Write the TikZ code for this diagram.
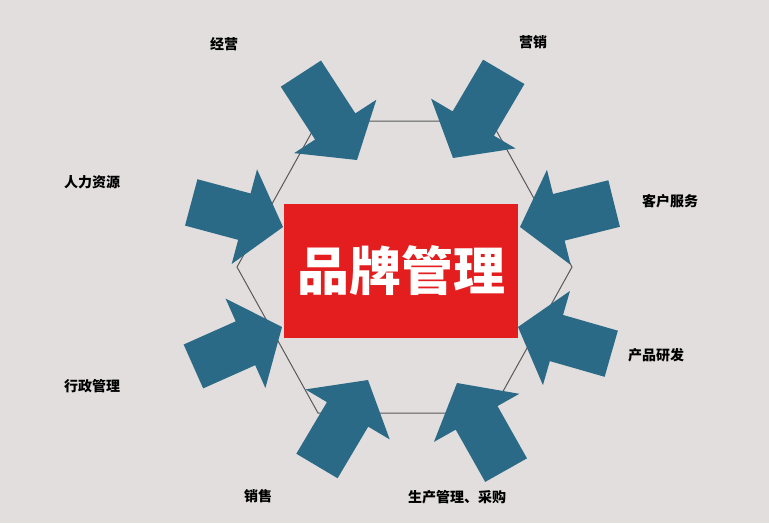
\documentclass[tikz,border=0pt]{standalone}
\usepackage{fontspec}
\newfontfamily\cjk{Noto Sans CJK SC}
\definecolor{bg}{HTML}{E2DEDE}
\definecolor{arrc}{HTML}{2B6A87}
\definecolor{redbox}{HTML}{E41E1E}
\newcommand\blockarrow[4]{%
  \fill[arrc,shift={(#1,#2)},rotate=-#3] (0,0) -- (40,-49) -- (40,-24) -- (#4,-24) -- (#4,24) -- (40,24) -- (40,49) -- cycle;}
\begin{document}
\begin{tikzpicture}[x=1pt,y=-1pt,
  lbl/.style={font=\cjk\bfseries\fontsize{14}{16}\selectfont,text=black}]
\fill[bg] (0,0) rectangle (769,523);
\useasboundingbox (0,0) rectangle (769,523);
\draw[gray!70!black,line width=1pt] (318,121) -- (491,121) -- (572,267) -- (491,413) -- (318,413) -- (237,267) -- cycle;
\node[fill=redbox,minimum width=234pt,minimum height=134pt,inner sep=0pt,
  font=\cjk\bfseries\fontsize{52}{56}\selectfont,text=white] (c) at (401,271) {品牌管理};
\blockarrow{357}{160}{-123}{103}
\blockarrow{453}{158}{-59.5}{100}
\blockarrow{283}{227}{-165}{95}
\blockarrow{520}{227}{-14}{97}
\blockarrow{282}{327}{156}{97}
\blockarrow{518}{327}{16}{97}
\blockarrow{368}{380}{120.7}{100}
\blockarrow{457}{383}{60.6}{100}
\node[lbl] (l1) at (224,44) {经营};
\node[lbl] (l2) at (533,42) {营销};
\node[lbl] (l3) at (92,182) {人力资源};
\node[lbl] (l4) at (670,201) {客户服务};
\node[lbl] (l5) at (92,386) {行政管理};
\node[lbl] (l6) at (656,355) {产品研发};
\node[lbl] (l7) at (258,496) {销售};
\node[lbl] (l8) at (457,497) {生产管理、采购};
\end{tikzpicture}
\end{document}
